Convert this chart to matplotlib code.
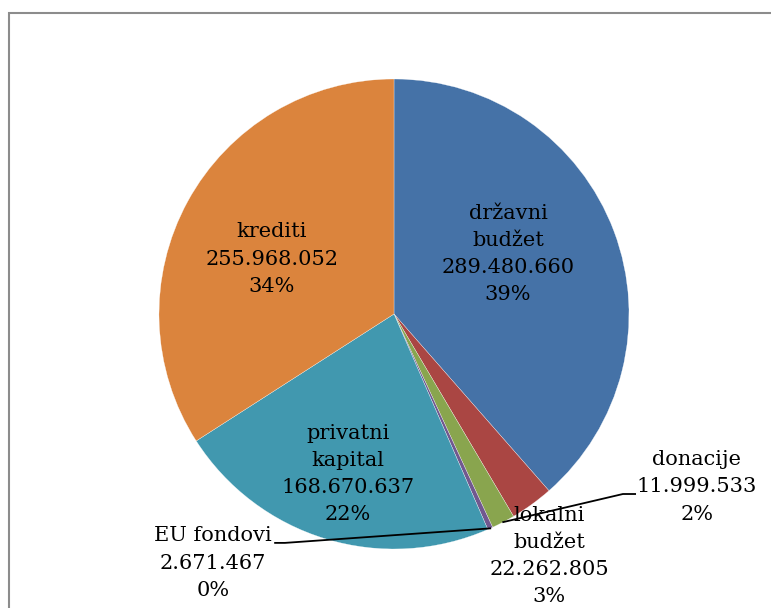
import matplotlib.pyplot as plt
from matplotlib.patches import Rectangle
import numpy as np

labels = ['državni\nbudžet', 'lokalni\nbudžet', 'donacije', 'EU fondovi', 'privatni\nkapital', 'krediti']
values = [289480660, 22262805, 11999533, 2671467, 168670637, 255968052]
colors = ['#4572A7', '#AA4643', '#89A54E', '#71588F', '#4198AF', '#DB843D']

# label centres in pie units (radius = 1)
label_pos = [(0.485, 0.255), (0.660, -1.030), (1.289, -0.736),
             (-0.770, -1.060), (-0.196, -0.681), (-0.519, 0.234)]
# leader lines: (end near text, elbow) for the small outside labels
leaders = {2: [(1.026, -0.766), (0.974, -0.766)],
           3: [(-0.506, -0.974), (-0.464, -0.974)]}

W, H = 771, 608
fig = plt.figure(figsize=(W / 100, H / 100), dpi=100)

# chart area frame (runs off the right and bottom edges)
fig.patches.append(Rectangle((9 / W, -0.1), 1.1, 1 - 13 / H + 0.1, transform=fig.transFigure,
                             fill=False, edgecolor='#8c8c8c', linewidth=1.5))

cx, cy, r = 394, 314, 235
ax = fig.add_axes([(cx - r) / W, (H - cy - r) / H, 2 * r / W, 2 * r / H])
wedges, _ = ax.pie(values, colors=colors, startangle=90, counterclock=False,
                   radius=1, wedgeprops=dict(linewidth=0.2, edgecolor='white'))
ax.set_xlim(-1, 1)
ax.set_ylim(-1, 1)
ax.set_aspect('equal')
ax.axis('off')

total = sum(values)
for i, (lab, v) in enumerate(zip(labels, values)):
    txt = '%s\n%s\n%d%%' % (lab, f'{v:,}'.replace(',', '.'), round(v / total * 100))
    x, y = label_pos[i]
    ax.text(x, y, txt, ha='center', va='center', fontsize=15, family='DejaVu Serif',
            linespacing=1.55, color='black', clip_on=False, zorder=5)

for i, pts in leaders.items():
    w = wedges[i]
    mid = np.deg2rad((w.theta1 + w.theta2) / 2)
    xs = [pts[0][0], pts[1][0], np.cos(mid)]
    ys = [pts[0][1], pts[1][1], np.sin(mid)]
    ax.plot(xs, ys, color='black', linewidth=1.3, clip_on=False, zorder=6)

fig.savefig('out.png', dpi=100)
